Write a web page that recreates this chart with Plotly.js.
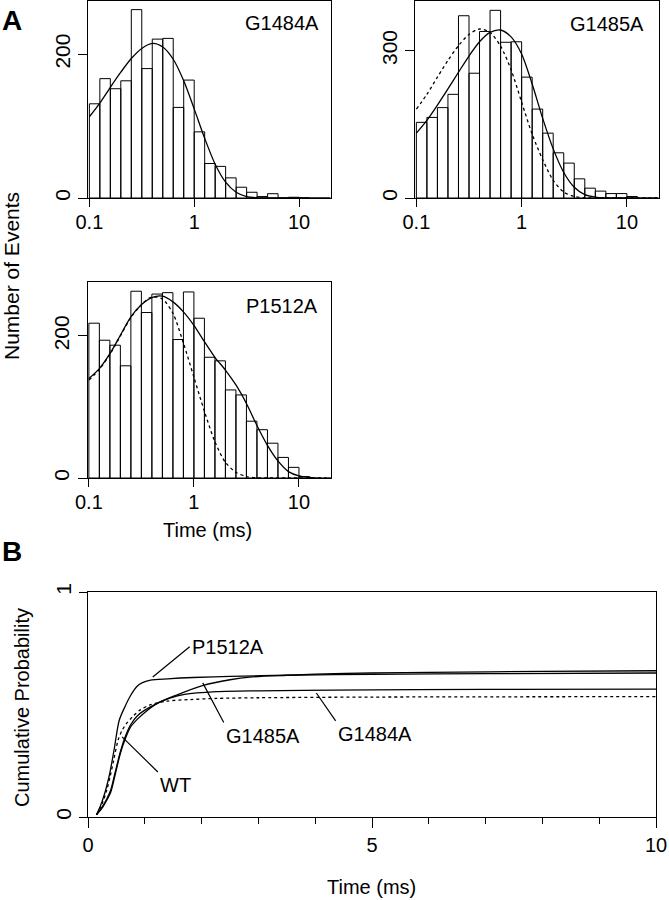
<!DOCTYPE html>
<html><head><meta charset="utf-8">
<script src="https://cdn.plot.ly/plotly-3.0.1.min.js"></script>
<style>html,body{margin:0;padding:0;background:#fff}</style>
</head><body>
<div id="chart" style="width:669px;height:900px"></div>
<script>
// ---------- DATA ----------
// Histogram bin edges (ms), 0.1-decade log bins
const binEdges = [0.1, 0.1259, 0.1585, 0.1995, 0.2512, 0.3162, 0.3981, 0.5012, 0.631, 0.7943, 1,
                  1.259, 1.585, 1.995, 2.512, 3.162, 3.981, 5.012, 6.31, 7.943, 10, 12.59];
const countsG1484A = [131, 166, 152, 163, 262, 180, 221, 222, 126, 164, 92, 48, 44, 28, 15, 8, 2, 6, 0, 1, 0];
const countsG1485A = [154, 164, 184, 211, 371, 254, 339, 382, 317, 318, 246, 181, 132, 92, 71, 39, 20, 14, 9, 9, 3];
const countsP1512A = [218, 194, 187, 158, 263, 233, 259, 261, 195, 262, 225, 170, 165, 124, 117, 80, 68, 49, 29, 15, 2];

const fitTime = [0.1, 0.1259, 0.1585, 0.1995, 0.2512, 0.3162, 0.3981, 0.5012, 0.631, 0.7943, 1,
                 1.259, 1.585, 1.995, 2.512, 3.162, 3.981, 5.012, 6.31, 7.943, 10, 12.59, 15.85, 19.95];
const fitG1484A    = [113, 132, 154, 175, 194, 208, 215, 210, 193, 163, 124, 83, 47, 22, 8, 2, 0.3, 0, 0, 0, 0, 0, 0, 0];
const fitG1485A    = [132, 158, 189, 222, 256, 289, 318, 337, 342, 328, 293, 232, 162, 100, 52, 22, 7, 2, 0.3, 0, 0, 0, 0, 0];
const fitWTin1485  = [181, 211, 246, 280, 310, 333, 344, 337, 309, 261, 195, 130, 78, 36, 12, 3, 0.6, 0, 0, 0, 0, 0, 0, 0];
const fitP1512A    = [140, 154, 175, 201, 227, 244, 254, 256, 248, 234, 215, 192, 170, 152, 131, 105, 74, 46, 24, 9, 3, 1, 0, 0];
const fitWTin1512  = [138, 153, 174, 200, 226, 244, 255, 252, 232, 190, 142, 94, 51, 22, 8, 2, 0.3, 0, 0, 0, 0, 0, 0, 0];

// Panel B cumulative probability curves
const cumTimeP1512A = [0.15, 0.22, 0.3, 0.38, 0.46, 0.55, 0.65, 0.75, 0.86, 0.95, 1.1, 1.4, 1.85, 2.5, 3.5, 5, 7, 10];
const cumP1512A     = [0.01, 0.05, 0.11, 0.19, 0.30, 0.43, 0.49, 0.54, 0.58, 0.596, 0.608, 0.614, 0.62, 0.625, 0.63, 0.634, 0.637, 0.64];
const cumTimeG1485A = [0.15, 0.25, 0.33, 0.4, 0.48, 0.57, 0.66, 0.75, 0.87, 1.0, 1.22, 1.56, 2.03, 2.5, 2.85, 3.5, 4, 5, 6, 8, 10];
const cumG1485A     = [0.01, 0.04, 0.075, 0.11, 0.19, 0.283, 0.35, 0.40, 0.435, 0.465, 0.505, 0.542, 0.585, 0.61, 0.622, 0.63, 0.635, 0.64, 0.643, 0.647, 0.65];
const cumTimeG1484A = [0.15, 0.25, 0.33, 0.4, 0.48, 0.57, 0.66, 0.75, 0.87, 1.0, 1.22, 1.44, 1.7, 2.26, 3, 4.3, 7, 10];
const cumG1484A     = [0.01, 0.045, 0.08, 0.12, 0.2, 0.29, 0.36, 0.41, 0.45, 0.475, 0.505, 0.528, 0.545, 0.557, 0.561, 0.564, 0.567, 0.568];
const cumTimeWT     = [0.15, 0.25, 0.33, 0.39, 0.45, 0.53, 0.6, 0.68, 0.8, 0.92, 1.09, 1.38, 1.8, 2.26, 3, 5, 10];
const cumWT         = [0.01, 0.06, 0.12, 0.18, 0.25, 0.342, 0.385, 0.416, 0.45, 0.476, 0.498, 0.515, 0.522, 0.527, 0.53, 0.533, 0.535];

const histTickVals = [0.1, 1, 10];
const histTickText = ['0.1', '1', '10'];

// ---------- LAYOUT HELPERS ----------
const W = 669, H = 900;
const FONT = 'Liberation Sans, Arial, Helvetica, sans-serif';
const px = v => v / W;
const py = v => 1 - v / H;

const mids = binEdges.slice(0, -1).map((e, i) => (e + binEdges[i + 1]) / 2);
const widths = binEdges.slice(0, -1).map((e, i) => binEdges[i + 1] - e);

function bars(counts, xa, ya) {
  return {type: 'bar', x: mids, y: counts, width: widths, xaxis: xa, yaxis: ya,
    marker: {color: 'rgba(255,255,255,0)', line: {color: '#000', width: 1}},
    hoverinfo: 'skip', showlegend: false};
}
function curve(x, y, xa, ya, dash) {
  return {type: 'scatter', mode: 'lines', x: x, y: y, xaxis: xa, yaxis: ya,
    line: {color: '#000', width: 1.3, dash: dash || 'solid', shape: 'spline', smoothing: 0.8},
    hoverinfo: 'skip', showlegend: false};
}

const data = [
  bars(countsG1484A, 'x', 'y'),
  curve(fitTime, fitG1484A, 'x', 'y'),
  bars(countsG1485A, 'x2', 'y2'),
  curve(fitTime, fitWTin1485, 'x2', 'y2', 'dot'),
  curve(fitTime, fitG1485A, 'x2', 'y2'),
  bars(countsP1512A, 'x3', 'y3'),
  curve(fitTime, fitWTin1512, 'x3', 'y3', 'dot'),
  curve(fitTime, fitP1512A, 'x3', 'y3'),
  curve(cumTimeWT, cumWT, 'x4', 'y4', 'dot'),
  curve(cumTimeG1484A, cumG1484A, 'x4', 'y4'),
  curve(cumTimeG1485A, cumG1485A, 'x4', 'y4'),
  curve(cumTimeP1512A, cumP1512A, 'x4', 'y4')
];

const axisBase = {showline: true, mirror: true, linecolor: '#000', linewidth: 1,
  showgrid: false, zeroline: false, ticks: 'outside', tickcolor: '#000', tickwidth: 1,
  tickfont: {family: FONT, size: 20, color: '#000'}, fixedrange: true};

function histX(dom, anchor) {
  return Object.assign({}, axisBase, {type: 'log', range: [-1.013, 1.305], domain: dom, anchor: anchor,
    tickmode: 'array', tickvals: histTickVals, ticktext: histTickText, ticklen: 8, ticklabelstandoff: -2});
}
function histY(dom, anchor, top, tv) {
  return Object.assign({}, axisBase, {range: [0, top], domain: dom, anchor: anchor,
    tickmode: 'array', tickvals: tv, ticklen: 9, tickangle: -90,
    tickfont: {family: FONT, size: 21, color: '#000'}});
}

const ann = (text, x, y, size, extra) => Object.assign({text: text, xref: 'paper', yref: 'paper',
  x: px(x), y: py(y), xanchor: 'center', yanchor: 'middle', showarrow: false,
  font: {family: FONT, size: size || 20, color: '#000'}}, extra || {});

function leader(text, x, y, axp, ayp, xanchor, yanchor) {
  return {text: text, xref: 'x4', yref: 'y4', axref: 'x4', ayref: 'y4',
    x: x, y: y, ax: axp, ay: ayp, showarrow: true, arrowhead: 0, arrowwidth: 1.2,
    arrowcolor: '#000', standoff: 0, startstandoff: 0, xanchor: xanchor, yanchor: yanchor,
    font: {family: FONT, size: 20, color: '#000'}};
}

const layout = {
  width: W, height: H, margin: {l: 0, r: 0, t: 0, b: 0},
  paper_bgcolor: '#fff', plot_bgcolor: 'rgba(0,0,0,0)', barmode: 'overlay', showlegend: false,
  font: {family: FONT, color: '#000'},
  xaxis: histX([px(88), px(331)], 'y'),
  yaxis: histY([py(198), py(1)], 'x', 274, [0, 200]),
  xaxis2: histX([px(415), px(659)], 'y2'),
  yaxis2: histY([py(198), py(1)], 'x2', 401, [0, 300]),
  xaxis3: histX([px(87.5), px(331)], 'y3'),
  yaxis3: histY([py(478), py(282)], 'x3', 276, [0, 200]),
  xaxis4: Object.assign({}, axisBase, {range: [0, 10], domain: [px(88), px(656)], anchor: 'y4',
    tickmode: 'linear', tick0: 0, dtick: 5, ticklen: 10,
    minor: {tickmode: 'linear', tick0: 0, dtick: 1, ticks: 'outside', ticklen: 6, tickcolor: '#000', tickwidth: 1}}),
  yaxis4: Object.assign({}, axisBase, {range: [0, 1], domain: [py(817), py(592)], anchor: 'x4',
    tickmode: 'array', tickvals: [0, 1], ticklen: 8, tickangle: -90,
    tickfont: {family: FONT, size: 21, color: '#000'}}),
  annotations: [
    ann('<b>A</b>', 12, 20, 28),
    ann('<b>B</b>', 12, 551, 28),
    ann('G1484A', 282, 23, 20),
    ann('G1485A', 607, 24, 20),
    ann('P1512A', 282, 306, 20),
    ann('Number of Events', 11, 276, 21, {textangle: -90}),
    ann('Time (ms)', 208, 530, 20),
    ann('Cumulative Probability', 22, 708, 20, {textangle: -90}),
    ann('Time (ms)', 371, 887, 20),
    leader('P1512A', 1.14, 0.622, 1.79, 0.757, 'left', 'middle'),
    leader('G1485A', 2.02, 0.596, 2.39, 0.42, 'left', 'top'),
    leader('G1484A', 4.02, 0.551, 4.36, 0.427, 'left', 'top'),
    leader('WT', 0.60, 0.356, 1.23, 0.20, 'left', 'top')
  ]
};

Plotly.newPlot('chart', data, layout, {staticPlot: true, displayModeBar: false});
</script>
</body></html>
